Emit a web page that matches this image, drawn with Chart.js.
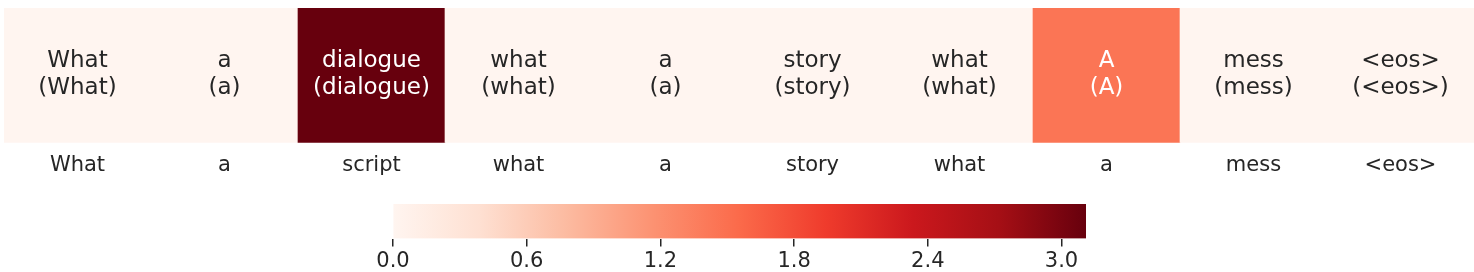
<!DOCTYPE html>
<html>
<head>
<meta charset="utf-8">
<script src="https://cdn.jsdelivr.net/npm/chart.js@4"></script>
<style>
    body { margin: 0; background: #fff; }
    #wrap { position: relative; width: 1474px; height: 272px; overflow: hidden; }
    #heat { position: absolute; left: 0; top: 0; }
    #cbar { position: absolute; left: 0; top: 190px; }
</style>
</head>
<body>
<div id="wrap">
    <canvas id="heat" width="1474" height="190"></canvas>
    <canvas id="cbar" width="1474" height="84"></canvas>
</div>
<script>
// target tokens shown under the cells
const targetTokens = ['What', 'a', 'script', 'what', 'a', 'story', 'what', 'a', 'mess', '<eos>']
// predicted tokens written inside the cells
const predTokens = ['What', 'a', 'dialogue', 'what', 'a', 'story', 'what', 'A', 'mess', '<eos>']
const predAltTokens = ['What', 'a', 'dialogue', 'what', 'a', 'story', 'what', 'A', 'mess', '<eos>']
// cell values (colour)
const cellValues = [0.0, 0.0, 3.11, 0.0, 0.0, 0.0, 0.0, 1.45, 0.0, 0.0]
const colorbarTicks = [0, 0.6, 1.2, 1.8, 2.4, 3.0]

const vmin = 0
const vmax = Math.max(...cellValues)

const FONT = 'DejaVu Sans'
const DARK = '#262626'

// matplotlib "Reds"
const reds = ['#fff5f0', '#fee0d2', '#fcbba1', '#fc9272', '#fb6a4a', '#ef3b2c', '#cb181d', '#a50f15', '#67000d']

function hexRgb(h) {
    return [1, 3, 5].map(i => parseInt(h.slice(i, i + 2), 16))
}

function redsRgb(t) {
    t = Math.min(1, Math.max(0, t))
    const pos = t * (reds.length - 1)
    const i = Math.min(reds.length - 2, Math.floor(pos))
    const f = pos - i
    const a = hexRgb(reds[i]), b = hexRgb(reds[i + 1])
    return a.map((c, k) => Math.round(c + (b[k] - c) * f))
}

function cellColor(v) {
    const [r, g, b] = redsRgb((v - vmin) / (vmax - vmin))
    return `rgb(${r}, ${g}, ${b})`
}

function textColorFor(v) {
    const lin = redsRgb((v - vmin) / (vmax - vmin)).map(c => {
        c /= 255
        return c <= 0.03928 ? c / 12.92 : Math.pow((c + 0.055) / 1.055, 2.4)
    })
    const lum = 0.2126 * lin[0] + 0.7152 * lin[1] + 0.0722 * lin[2]
    return lum > 0.408 ? DARK : '#ffffff'
}

const annotPlugin = {
    id: 'annot',
    afterDatasetsDraw(chart) {
        const ctx = chart.ctx
        const meta = chart.getDatasetMeta(0)
        ctx.save()
        ctx.font = `23px "${FONT}"`
        ctx.textAlign = 'center'
        ctx.textBaseline = 'middle'
        meta.data.forEach((bar, i) => {
            const yc = (bar.y + bar.base) / 2
            ctx.fillStyle = textColorFor(cellValues[i])
            ctx.fillText(predTokens[i], bar.x, yc - 14)
            ctx.fillText(`(${predAltTokens[i]})`, bar.x, yc + 13)
        })
        ctx.restore()
    }
}

new Chart(document.getElementById('heat'), {
    type: 'bar',
    data: {
        labels: targetTokens,
        datasets: [{
            data: cellValues.map(() => [0, 1]),
            backgroundColor: cellValues.map(cellColor),
            borderWidth: 0,
            borderSkipped: false,
            barPercentage: 1,
            categoryPercentage: 1,
        }]
    },
    options: {
        responsive: false,
        animation: false,
        events: [],
        layout: { padding: { left: 4, right: 0, top: 8, bottom: 2 } },
        plugins: { legend: { display: false }, tooltip: { enabled: false } },
        scales: {
            x: {
                grid: { display: false, drawTicks: false },
                border: { display: false },
                ticks: { color: DARK, font: { family: FONT, size: 21 }, padding: 10, maxRotation: 0, autoSkip: false },
            },
            y: { display: false, min: 0, max: 1 },
        }
    },
    plugins: [annotPlugin]
})

new Chart(document.getElementById('cbar'), {
    type: 'bar',
    data: {
        labels: [''],
        datasets: [{
            data: [[vmin, vmax]],
            backgroundColor: (context) => {
                const chart = context.chart
                if (!chart.chartArea) return reds[0]
                const xs = chart.scales.x
                const x0 = xs.getPixelForValue(vmin), x1 = xs.getPixelForValue(vmax)
                const grad = chart.ctx.createLinearGradient(x0, 0, x1, 0)
                reds.forEach((c, i) => grad.addColorStop(i / (reds.length - 1), c))
                return grad
            },
            borderWidth: 0,
            borderSkipped: false,
            barPercentage: 1,
            categoryPercentage: 1,
        }]
    },
    options: {
        indexAxis: 'y',
        responsive: false,
        animation: false,
        events: [],
        layout: { padding: { left: 393, right: 388, top: 14, bottom: 1 } },
        plugins: { legend: { display: false }, tooltip: { enabled: false } },
        scales: {
            x: {
                type: 'linear',
                min: vmin,
                max: vmax,
                afterBuildTicks: scale => { scale.ticks = colorbarTicks.map(value => ({ value })) },
                grid: { drawOnChartArea: false, drawTicks: true, tickLength: 8, color: DARK, lineWidth: 1.5 },
                border: { display: false },
                ticks: {
                    color: DARK,
                    font: { family: FONT, size: 21 },
                    padding: 2,
                    maxRotation: 0,
                    callback: v => Number(v).toFixed(1),
                },
            },
            y: { display: false },
        }
    }
})
</script>
</body>
</html>
